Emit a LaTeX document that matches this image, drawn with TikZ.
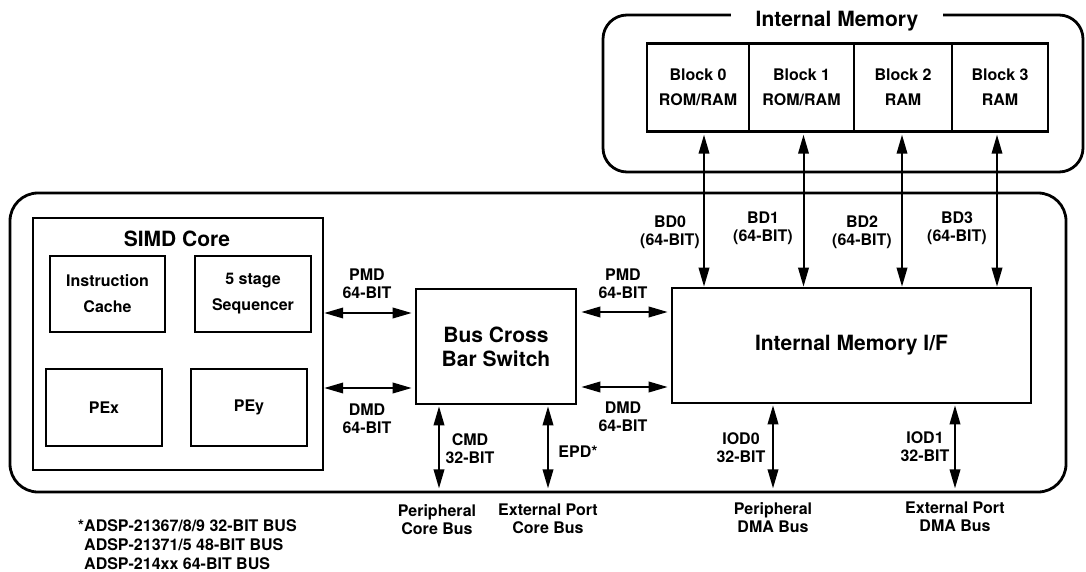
\documentclass[tikz,border=0pt]{standalone}
\usepackage{fontspec}
\setmainfont{TeX Gyre Heros}
\usetikzlibrary{arrows.meta,positioning}
\begin{document}
\begin{tikzpicture}[x=1pt,y=-1pt,line join=miter,
	txt/.style={font=\bfseries\fontsize{16}{18}\selectfont,align=center,inner sep=0pt},
	bigtxt/.style={font=\bfseries\fontsize{21}{24}\selectfont,align=center,inner sep=0pt},
	outer/.style={draw,line width=2.8pt,rounded corners=28pt,inner sep=0pt},
	blockbox/.style={draw,line width=2.4pt,txt,font=\bfseries\fontsize{16}{25}\selectfont,minimum height=88pt},
	unit/.style={draw,line width=2pt,txt,font=\bfseries\fontsize{16}{26}\selectfont,minimum width=116pt,minimum height=76pt},
	head/.tip={Triangle[length=19pt,width=10.5pt]},
	bus/.style={line width=2pt,head-head}]
	\useasboundingbox (0,0) rectangle (1086,572);
	\node[outer,rounded corners=24pt,minimum width=480pt,minimum height=157pt] (imem) at (843,93.5) {};
	\node[bigtxt,fill=white,inner xsep=25pt,inner ysep=4pt,anchor=base] (imemttl) at (837,27) {Internal Memory};
	\node[outer,minimum width=1056pt,minimum height=299pt] (chip) at (538,342.5) {};
	\node[blockbox,minimum width=102pt] (blk0) at (698,87.5) {Block 0\\ROM/RAM};
	\node[blockbox,minimum width=105pt] (blk1) at (801.5,87.5) {Block 1\\ROM/RAM};
	\node[blockbox,minimum width=98pt] (blk2) at (903,87.5) {Block 2\\RAM};
	\node[blockbox,minimum width=96pt] (blk3) at (1000,87.5) {Block 3\\RAM};
	\node[draw,line width=2.4pt,minimum width=290pt,minimum height=252pt] (simd) at (178,344) {};
	\node[bigtxt] (simdttl) at (177,239) {SIMD Core};
	\node[unit,minimum width=115pt] (icache) at (107.5,294) {Instruction\\Cache};
	\node[unit] (seq) at (253,294) {5 stage\\Sequencer};
	\node[unit,minimum height=77pt] (pex) at (104,407.5) {PEx};
	\node[unit,minimum height=77pt] (pey) at (249,407.5) {PEy};
	\node[draw,line width=2.6pt,bigtxt,minimum width=160pt,minimum height=115pt] (xbar) at (496,346.5) {Bus Cross\\Bar Switch};
	\node[draw,line width=2.6pt,bigtxt,minimum width=359pt,minimum height=115pt] (imif) at (851.5,345.5) {Internal Memory I/F};
	\foreach \b/\dx in {0/6,1/2,2/-1,3/-3}{
		\coordinate (bd\b) at ([xshift=\dx pt]blk\b.south);
		\draw[bus,shorten <=2pt] (bd\b) -- (bd\b |- imif.north);
	}
	\foreach \b/\lx/\ly in {0/670/232,1/763/228.5,2/862/232,3/957/228.5}
	\node[txt] (bdlbl\b) at (\lx,\ly) {BD\b\\(64-BIT)};
	\coordinate (pmdL) at ([yshift=33.5pt]xbar.west);
	\coordinate (dmdL) at ([yshift=-41.5pt]xbar.west);
	\coordinate (pmdR) at ([yshift=34.5pt]xbar.east);
	\coordinate (dmdR) at ([yshift=-40.5pt]xbar.east);
	\draw[bus,shorten >=3pt] (pmdL -| simd.east) -- (pmdL);
	\draw[bus,shorten >=3pt] (dmdL -| simd.east) -- (dmdL);
	\draw[bus,shorten <=4pt,shorten >=3pt] (pmdR) -- (pmdR -| imif.west);
	\draw[bus,shorten <=4pt,shorten >=3pt] (dmdR) -- (dmdR -| imif.west);
	\node[txt] (pmdLlbl) at (367,284) {PMD\\64-BIT};
	\node[txt] (dmdLlbl) at (367,418.5) {DMD\\64-BIT};
	\node[txt] (pmdRlbl) at (623,283.5) {PMD\\64-BIT};
	\node[txt] (dmdRlbl) at (623,416.5) {DMD\\64-BIT};
	\coordinate (cmd) at ([xshift=-57pt]xbar.south);
	\coordinate (epd) at ([xshift=52pt]xbar.south);
	\coordinate (iod0) at ([xshift=-78.5pt]imif.south);
	\coordinate (iod1) at ([xshift=103.5pt]imif.south);
	\foreach \p in {cmd,epd,iod0,iod1}{
		\coordinate (\p end) at (\p |- chip.south);
		\draw[bus,shorten <=1pt,shorten >=5pt] (\p) -- (\p end);
	}
	\node[txt] (cmdlbl) at (470,449) {CMD\\32-BIT};
	\node[txt] (epdlbl) at (578,452) {EPD*};
	\node[txt] (iod0lbl) at (741,447.5) {IOD0\\32-BIT};
	\node[txt] (iod1lbl) at (925,446.5) {IOD1\\32-BIT};
	\node[txt,below=11pt of cmdend,xshift=-2pt] (pcb) {Peripheral\\Core Bus};
	\node[txt,below=10pt of epdend] (ecb) {External Port\\Core Bus};
	\node[txt,below=9pt of iod0end] (pdb) {Peripheral\\DMA Bus};
	\node[txt,below=8pt of iod1end] (edb) {External Port\\DMA Bus};
	\node[txt,align=left,anchor=west,font=\bfseries\fontsize{16}{19}\selectfont] (note) at (84,545)
	{\llap{*}ADSP-21367/8/9 32-BIT BUS\\ADSP-21371/5 48-BIT BUS\\ADSP-214xx 64-BIT BUS};
\end{tikzpicture}
\end{document}
